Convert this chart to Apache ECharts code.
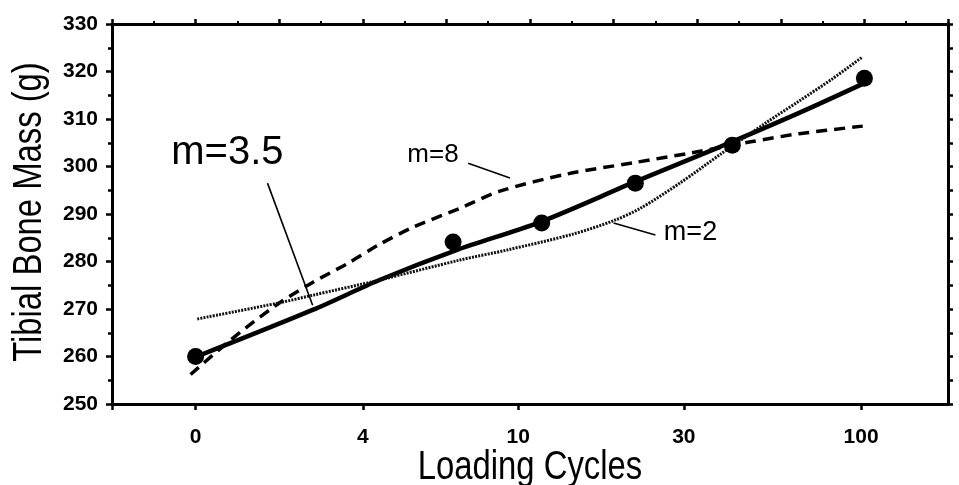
<!DOCTYPE html>
<html>
<head>
<meta charset="utf-8">
<script src="https://cdn.jsdelivr.net/npm/echarts@6/dist/echarts.min.js"></script>
<style>
html,body{margin:0;padding:0;background:#fff;}
#chart{width:959px;height:485px;}
</style>
</head>
<body>
<div id="chart"></div>
<script>
// x is an ordinal display position on the Loading Cycles axis
const tickPositions = [0, 1, 1.93, 2.92, 3.98];
const tickLabels = ['0', '4', '10', '30', '100'];

const pointX = [0, 1.54, 2.07, 2.63, 3.21, 4.0];
const pointY = [260, 284.1, 288.1, 296.5, 304.5, 318.6];

const m35X = [0, 0.70, 1.10, 1.56, 2.06, 2.63, 3.14, 3.61, 3.99];
const m35Y = [259.9, 269.8, 276.1, 282.4, 288.3, 296.8, 304.2, 311.3, 317.4];

const m8X = [-0.03, 0.21, 0.49, 0.70, 0.91, 1.10, 1.30, 1.58, 1.82, 2.22, 2.62, 2.97, 3.32, 3.61, 3.99];
const m8Y = [256.2, 263.5, 271.0, 275.6, 279.6, 283.6, 287.2, 291.2, 294.8, 298.4, 300.8, 302.9, 305.2, 306.9, 308.5];

const m2X = [0.01, 0.50, 0.70, 1.10, 1.58, 1.86, 2.26, 2.50, 2.66, 2.90, 3.14, 3.42, 3.61, 3.81, 3.99];
const m2Y = [267.9, 271.3, 272.9, 276.1, 280.3, 282.4, 285.8, 288.6, 291.2, 296.6, 302.6, 309.4, 313.8, 318.5, 323.1];

const labelTexts = ['m=3.5', 'm=8', 'm=2'];
const labelX = [0.19, 1.42, 2.96];
const labelY = [302.8, 302.4, 286.0];
const labelSizes = [40, 26, 27];

const leaderX = [[0.43, 0.70], [1.63, 1.88], [2.50, 2.75]];
const leaderY = [[296.5, 270.8], [300.7, 297.6], [288.1, 285.6]];

const xTitle = 'Loading Cycles';
const yTitle = 'Tibial Bone Mass (g)';

const pairs = (xs, ys) => xs.map((x, i) => [x, ys[i]]);

const sans = "'Liberation Sans', Arial, Helvetica, sans-serif";
const black = '#000';

const series = [
  {
    type: 'line', name: 'm=3.5', data: pairs(m35X, m35Y), smooth: 0.3,
    showSymbol: false, lineStyle: { color: black, width: 4.5 }, z: 3
  },
  {
    type: 'line', name: 'm=8', data: pairs(m8X, m8Y), smooth: 0.3,
    showSymbol: false, lineStyle: { color: black, width: 3.5, type: [11, 7] }, z: 3
  },
  {
    type: 'line', name: 'm=2', data: pairs(m2X, m2Y), smooth: 0.3,
    showSymbol: false, lineStyle: { color: '#111', width: 3, type: [2, 1.2] }, z: 3
  },
  {
    type: 'scatter', name: 'data', data: pairs(pointX, pointY),
    symbol: 'circle', symbolSize: 17, itemStyle: { color: black, opacity: 1 }, z: 5
  },
  {
    type: 'scatter', name: 'labels',
    data: labelTexts.map((t, i) => ({
      value: [labelX[i], labelY[i]], name: t,
      label: { fontSize: labelSizes[i] }
    })),
    symbolSize: 0,
    itemStyle: { opacity: 1 },
    label: {
      show: true, position: 'inside', color: black, fontFamily: sans,
      formatter: p => p.name
    },
    z: 6
  }
];

leaderX.forEach((xs, i) => {
  series.push({
    type: 'line', data: pairs(xs, leaderY[i]), showSymbol: false,
    lineStyle: { color: black, width: 1.6 }, z: 4, silent: true
  });
});

const chart = echarts.init(document.getElementById('chart'), null, { renderer: 'canvas' });
chart.setOption({
  animation: false,
  backgroundColor: '#fff',
  grid: { left: 112, right: 11, top: 24, bottom: 81 },
  graphic: [
    {
      type: 'text', x: 530, y: 468, scaleX: 0.82,
      style: { text: xTitle, font: '40px ' + sans, fill: black, textAlign: 'center', textVerticalAlign: 'middle' }
    },
    {
      type: 'text', x: 30, y: 212, rotation: Math.PI / 2, scaleX: 0.82,
      style: { text: yTitle, font: '40px ' + sans, fill: black, textAlign: 'center', textVerticalAlign: 'middle' }
    }
  ],
  xAxis: [
    {
      type: 'value', position: 'bottom', min: -0.5, max: 4.5,
      axisLine: { show: true, onZero: false, lineStyle: { color: black, width: 3 } },
      axisTick: { show: true, length: 6, customValues: [-0.5].concat(tickPositions), lineStyle: { color: black, width: 2.5 } },
      axisLabel: {
        show: true, customValues: tickPositions, margin: 23,
        formatter: v => { const i = tickPositions.indexOf(v); return i >= 0 ? tickLabels[i] : ''; },
        fontFamily: sans, fontWeight: 'bold', fontSize: 21, color: black
      },
      splitLine: { show: false }
    },
    {
      type: 'value', position: 'top', min: -0.5, max: 4.5, interval: 0.5,
      axisLine: { show: true, onZero: false, lineStyle: { color: black, width: 3 } },
      axisTick: { show: true, length: 5, lineStyle: { color: black, width: 2.5 } },
      minorTick: { show: true, splitNumber: 2, length: 3, lineStyle: { color: black, width: 2 } },
      axisLabel: { show: false },
      splitLine: { show: false }
    }
  ],
  yAxis: [
    {
      type: 'value', position: 'left', min: 250, max: 330, interval: 10,
      axisLine: { show: true, onZero: false, lineStyle: { color: black, width: 3 } },
      axisTick: { show: true, length: 6, lineStyle: { color: black, width: 2.5 } },
      minorTick: { show: true, splitNumber: 2, length: 4, lineStyle: { color: black, width: 2.5 } },
      axisLabel: { margin: 14, fontFamily: sans, fontWeight: 'bold', fontSize: 21, color: black },
      splitLine: { show: false }
    },
    {
      type: 'value', position: 'right', min: 250, max: 330, interval: 5,
      axisLine: { show: true, onZero: false, lineStyle: { color: black, width: 3 } },
      axisTick: { show: true, length: 5, lineStyle: { color: black, width: 2.5 } },
      axisLabel: { show: false },
      splitLine: { show: false }
    }
  ],
  series: series
});
</script>
</body>
</html>
